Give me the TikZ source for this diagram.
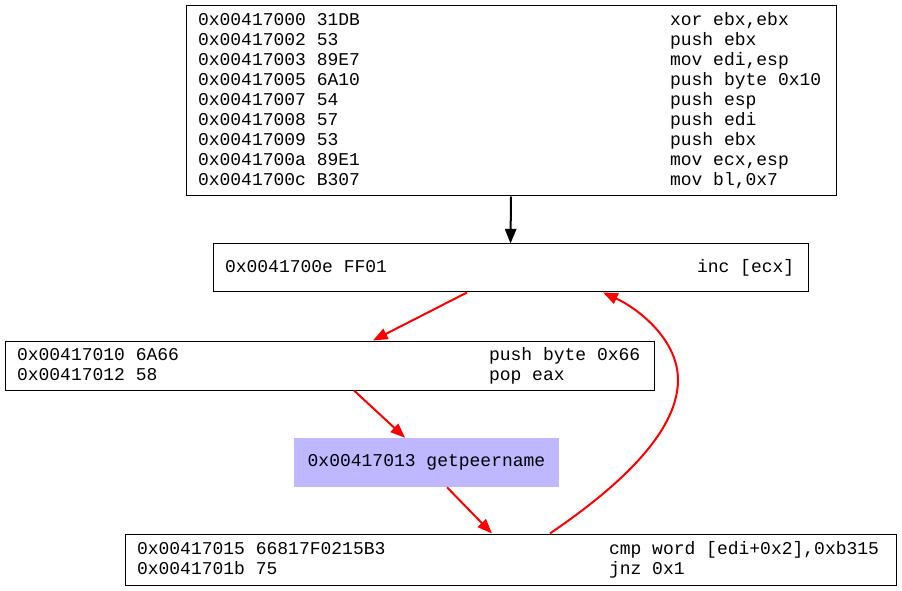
\documentclass[tikz,border=0pt]{standalone}
\usepackage{fontspec}
\setmonofont{Liberation Mono}
\usetikzlibrary{arrows.meta}
\definecolor{callfill}{RGB}{191,183,255}
\definecolor{edgered}{RGB}{255,0,0}
\newcommand{\codefont}{\ttfamily\fontsize{13.5}{15}\selectfont}
\newcommand{\insn}[2]{\makebox[354pt][l]{#1}#2}

\begin{document}
\begin{tikzpicture}[x=0.75pt, y=-0.75pt,
    codebox/.style={rectangle, draw=black, line width=0.75pt, inner xsep=9pt, inner ysep=0pt,
                    align=left, font=\codefont,
                    execute at begin node={\spaceskip=8.1pt\xspaceskip=8.1pt\relax}},
    callbox/.style={rectangle, fill=callfill, inner sep=0pt, minimum width=198.75pt,
                    minimum height=36.75pt, font=\codefont},
    arr/.style={-{Triangle[length=11pt, width=8.5pt]}, line width=1.5pt, black},
    redarr/.style={arr, edgered}
]
\useasboundingbox (0,0) rectangle (902,591);
\node[codebox, text width=469.5pt, minimum height=142.5pt] (prologue) at (511,101) {%
\insn{0x00417000 31DB}{xor ebx,ebx}\\
\insn{0x00417002 53}{push ebx}\\
\insn{0x00417003 89E7}{mov edi,esp}\\
\insn{0x00417005 6A10}{push byte 0x10}\\
\insn{0x00417007 54}{push esp}\\
\insn{0x00417008 57}{push edi}\\
\insn{0x00417009 53}{push ebx}\\
\insn{0x0041700a 89E1}{mov ecx,esp}\\
\insn{0x0041700c B307}{mov bl,0x7}};
\node[codebox, text width=428.25pt, minimum height=36pt] (incfd) at (510.5,268) {%
\insn{0x0041700e FF01}{inc [ecx]}};
\node[codebox, text width=468.75pt, minimum height=36.75pt] (setcall) at (329.5,365.5) {%
\insn{0x00417010 6A66}{push byte 0x66}\\
\insn{0x00417012 58}{pop eax}};
\node[callbox] (peer) at (426.5,462.5) {0x00417013 getpeername};
\node[codebox, text width=560.25pt, minimum height=38.25pt] (check) at (510.5,559.5) {%
\insn{0x00417015 66817F0215B3}{cmp word [edi+0x2],0xb315}\\
\insn{0x0041701b 75}{jnz 0x1}};
\coordinate (loopturn) at (678,380);

\draw[arr] (prologue.south) -- (incfd.north);
\draw[redarr] ([xshift=-32.6pt]incfd.south) -- ([xshift=32.6pt]setcall.north);
\draw[redarr] ([xshift=18.4pt]setcall.south) -- ([xshift=-16.1pt]peer.north);
\draw[redarr] ([xshift=15.4pt]peer.south) -- ([xshift=-13.9pt]check.north);
\draw[redarr] ([xshift=29.6pt]check.north) .. controls (599,500) and (678,440) .. (loopturn)
    .. controls (678,340) and (639,309) .. ([xshift=69.4pt]incfd.south);
\end{tikzpicture}
\end{document}
